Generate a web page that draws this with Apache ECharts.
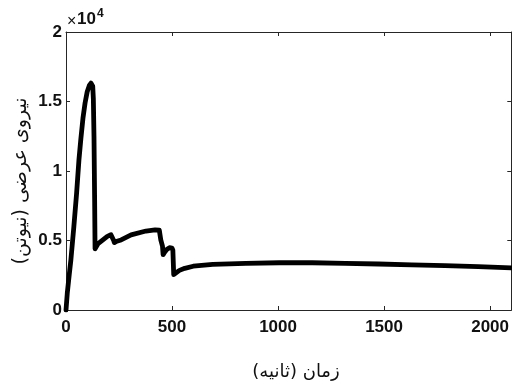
<!DOCTYPE html>
<html>
<head>
<meta charset="utf-8">
<script src="https://cdn.jsdelivr.net/npm/echarts@6/dist/echarts.min.js"></script>
<style>
  html, body { margin: 0; padding: 0; background: #fff; }
  #chart { width: 512px; height: 385px; }
</style>
</head>
<body>
<div id="chart"></div>
<script>
// زمان (ثانیه) - time samples
const timeSec = [
  0, 6, 15, 23, 37, 50, 61, 70, 80, 90, 100, 110, 118, 122, 126, 129, 132, 135, 137,
  150, 174, 195, 212, 221, 225, 228, 240, 260, 307, 377, 420, 440,
  444, 447, 452, 455, 458, 465, 475, 488, 500, 504, 508,
  515, 535, 560, 600, 692, 848, 1005, 1161, 1318, 1474, 1631, 1787, 1944, 2100
]
// نیروی عرضی (نیوتن)
const forceN = [
  0, 1200, 2500, 3600, 5990, 8400, 10790, 12300, 13800, 14900, 15700, 16150, 16320, 16300, 16100, 15200, 12500, 8000, 4400,
  4750, 5040, 5300, 5420, 5400, 5000, 4850, 4950, 5040, 5400, 5680, 5760, 5740,
  5600, 5050, 4950, 4600, 3980, 4150, 4350, 4480, 4450, 4300, 2550,
  2600, 2850, 3000, 3150, 3285, 3360, 3400, 3400, 3360, 3310, 3240, 3190, 3115, 3030
]
const xTicks = [0, 500, 1000, 1500, 2000]
const yTicks = ['0', '0.5', '1', '1.5', '2']

const axisColor = '#262626'
const latin = 'Liberation Sans, Arial, sans-serif'
const persian = 'DejaVu Sans, sans-serif'
const tickFont = { fontFamily: latin, fontWeight: 'bold', fontSize: 17, color: '#111' }

const chart = echarts.init(document.getElementById('chart'), null, { renderer: 'canvas' })

// one side of the MATLAB style box: line plus inward ticks
function boxAxis(extra) {
  return Object.assign({
    type: 'value',
    splitLine: { show: false },
    axisLine: { show: true, onZero: false, lineStyle: { color: axisColor, width: 1 } },
    axisTick: { show: true, inside: true, length: 4, lineStyle: { color: axisColor } },
    axisLabel: { show: false }
  }, extra)
}

const option = {
  animation: false,
  backgroundColor: '#fff',
  grid: { left: 66, right: -2, top: 32, bottom: 75 },
  xAxis: [
    boxAxis({
      min: 0, max: 2100, interval: 500, position: 'bottom',
      axisLabel: {
        ...tickFont,
        margin: 9,
        showMaxLabel: false,
        formatter: v => (xTicks.includes(v) ? String(v) : '')
      }
    }),
    boxAxis({ min: 0, max: 2100, interval: 500, position: 'top' })
  ],
  yAxis: [
    boxAxis({
      min: 0, max: 20000, interval: 5000, position: 'left',
      axisLabel: {
        ...tickFont,
        margin: 4,
        formatter: v => yTicks[v / 5000]
      }
    }),
    boxAxis({ min: 0, max: 20000, interval: 5000, position: 'right' })
  ],
  graphic: [
    // axis titles
    {
      type: 'text', x: 296, y: 372,
      style: { text: 'زمان (ثانیه)', font: '18px ' + persian, fill: '#111', align: 'center', verticalAlign: 'middle' }
    },
    {
      type: 'text', x: 21, y: 181, rotation: Math.PI / 2,
      style: { text: 'نیروی عرضی (نیوتن)', font: '19px ' + persian, fill: '#111', align: 'center', verticalAlign: 'middle' }
    },
    // exponent label
    {
      type: 'text', x: 67, y: 22,
      style: { text: '×', font: '16px ' + latin, fill: '#111', align: 'left', verticalAlign: 'middle' }
    },
    {
      type: 'text', x: 77, y: 11,
      style: { text: '10', font: 'bold 17px ' + latin, fill: '#111', align: 'left', verticalAlign: 'top' }
    },
    {
      type: 'text', x: 97, y: 8,
      style: { text: '4', font: 'bold 12px ' + latin, fill: '#111', align: 'left', verticalAlign: 'top' }
    }
  ],
  series: [
    {
      type: 'line',
      data: timeSec.map((t, i) => [t, forceN[i]]),
      showSymbol: false,
      smooth: false,
      lineStyle: { color: '#000', width: 4.8, join: 'round', cap: 'round' },
      clip: true
    }
  ]
}

chart.setOption(option)
</script>
</body>
</html>
